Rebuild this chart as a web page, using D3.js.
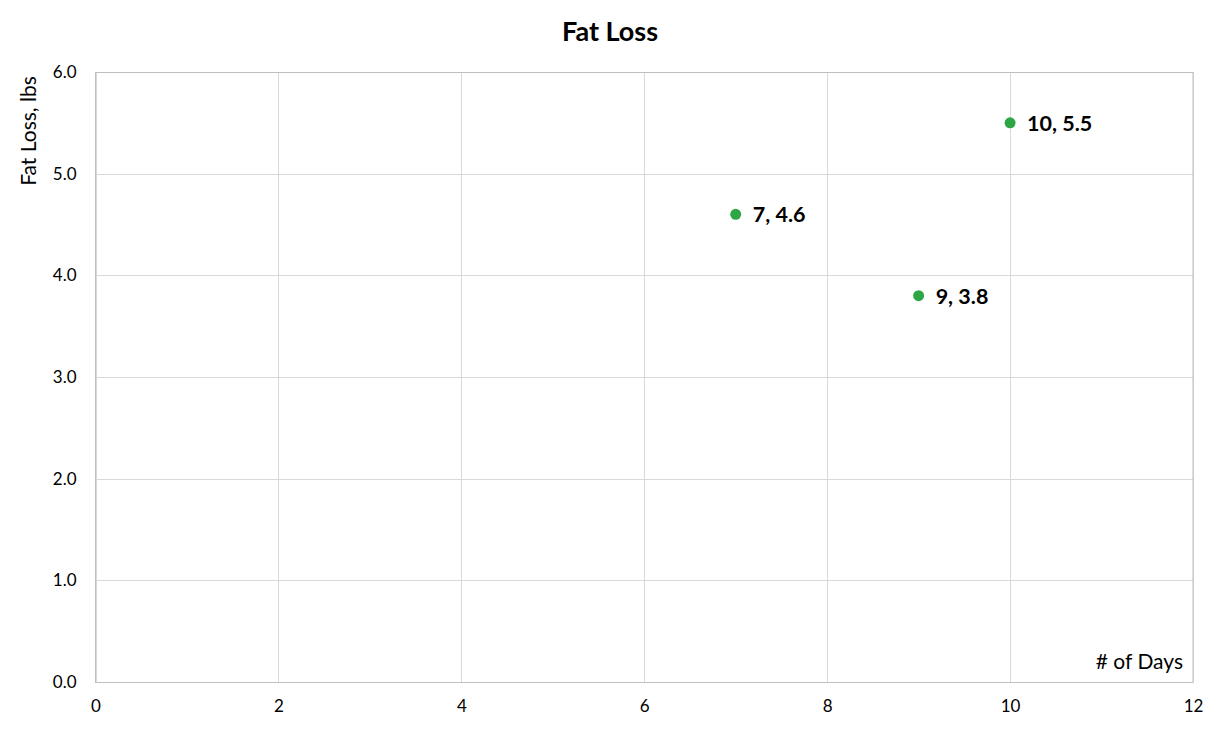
<!DOCTYPE html>
<html><head><meta charset="utf-8">
<script src="https://cdn.jsdelivr.net/npm/d3@7"></script>
<style>body{margin:0;background:#fff;} text{font-family:Lato,"Open Sans",sans-serif;}</style>
</head><body>
<svg id="c" width="1223" height="734"></svg>
<script>
const days = [7, 9, 10];
const fatLoss = [4.6, 3.8, 5.5];
const xTicks = [0, 2, 4, 6, 8, 10, 12];
const yTicks = [0, 1, 2, 3, 4, 5, 6];
const title = "Fat Loss";
const xLabel = "# of Days";
const yLabel = "Fat Loss, lbs";

const svg = d3.select("#c");
const L = 95.5, R = 1193, T = 72, B = 682;
const x = d3.scaleLinear().domain([0, 12]).range([L, R]);
const y = d3.scaleLinear().domain([0, 6]).range([B, T]);

// gridlines
svg.append("g").selectAll("line").data(xTicks).join("line")
  .attr("x1", d => Math.round(x(d)) + 0.5).attr("x2", d => Math.round(x(d)) + 0.5)
  .attr("y1", T).attr("y2", B).attr("stroke", "#d9d9d9");
svg.append("g").selectAll("line").data(yTicks).join("line")
  .attr("y1", d => Math.round(y(d)) + 0.5).attr("y2", d => Math.round(y(d)) + 0.5)
  .attr("x1", L).attr("x2", R).attr("stroke", "#d9d9d9");
svg.append("rect").attr("x", L).attr("y", T + 0.5).attr("width", R - L).attr("height", B - T)
  .attr("fill", "none").attr("stroke", "#bfbfbf");

// axes
const xa = svg.append("g").attr("transform", `translate(0,${B})`)
  .call(d3.axisBottom(x).tickValues(xTicks).tickSize(0).tickPadding(18).tickFormat(d3.format("d")));
xa.select(".domain").remove();
xa.selectAll("text").attr("font-size", 17).attr("fill", "#000").attr("font-family", "Lato,sans-serif");
const ya = svg.append("g").attr("transform", `translate(${L},0)`)
  .call(d3.axisLeft(y).tickValues(yTicks).tickSize(0).tickPadding(19).tickFormat(d3.format(".1f")));
ya.select(".domain").remove();
ya.selectAll("text").attr("font-size", 17).attr("fill", "#000").attr("font-family", "Lato,sans-serif");

// title and axis labels
svg.append("text").attr("x", 610).attr("y", 41).attr("text-anchor", "middle")
  .attr("font-size", 27).attr("font-weight", "bold").text(title);
svg.append("text").attr("transform", "translate(36,131) rotate(-90)").attr("text-anchor", "middle")
  .attr("font-size", 21).text(yLabel);
svg.append("text").attr("x", 1183).attr("y", 669).attr("text-anchor", "end")
  .attr("font-size", 21).text(xLabel);

// points
const pts = days.map((d, i) => ({ x: d, y: fatLoss[i] }));
svg.append("g").selectAll("circle").data(pts).join("circle")
  .attr("cx", d => x(d.x)).attr("cy", d => y(d.y)).attr("r", 5.5).attr("fill", "#2ea646");
svg.append("g").selectAll("text").data(pts).join("text")
  .attr("x", d => x(d.x) + 17).attr("y", d => y(d.y) + 8)
  .attr("font-size", 21.5).attr("font-weight", "bold")
  .text(d => `${d.x}, ${d.y.toFixed(1)}`);
</script>
</body></html>
